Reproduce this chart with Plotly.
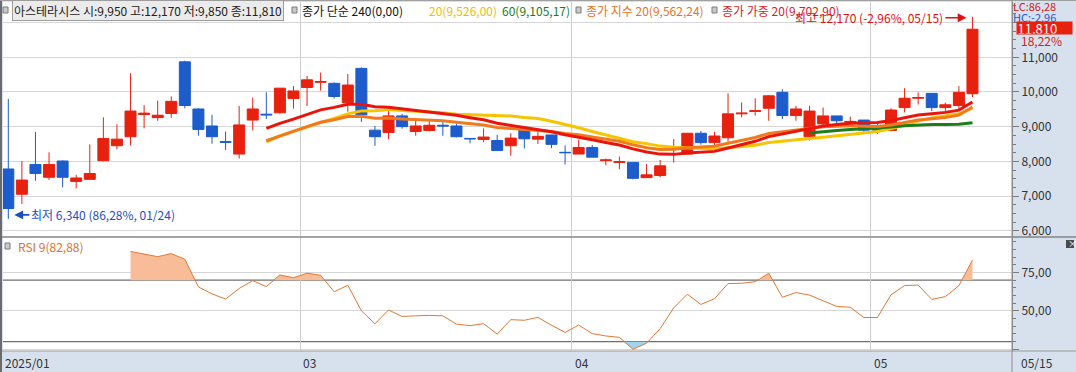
import plotly.graph_objects as go

# ---------------- data ----------------
stock_name = "아스테라시스"
dates = ["01/24", "01/31",
         "02/03", "02/04", "02/05", "02/06", "02/07", "02/10", "02/11", "02/12", "02/13", "02/14",
         "02/17", "02/18", "02/19", "02/20", "02/21", "02/24", "02/25", "02/26", "02/27", "02/28",
         "03/04", "03/05", "03/06", "03/07", "03/10", "03/11", "03/12", "03/13", "03/14", "03/17",
         "03/18", "03/19", "03/20", "03/21", "03/24", "03/25", "03/26", "03/27", "03/28", "03/31",
         "04/01", "04/02", "04/03", "04/04", "04/07", "04/08", "04/09", "04/10", "04/11", "04/14",
         "04/15", "04/16", "04/17", "04/18", "04/21", "04/22", "04/23", "04/24", "04/25", "04/28",
         "04/29", "04/30",
         "05/02", "05/07", "05/08", "05/09", "05/12", "05/13", "05/14", "05/15"]

open_ = [7780, 7050, 7910, 7540, 8010, 7420, 7480, 8020, 8450, 8710,
         9350, 9260, 9380, 10870, 9510, 9020, 8570, 8210, 9190, 9360,
         9400, 9810, 10130, 10280, 10250, 9690, 10680, 8900, 8830, 9310,
         8860, 8890, 9040, 9020, 8660, 8630, 8600, 8450, 8900, 8640,
         8760, 8260, 8210, 8400, 8020, 7970, 7970, 7530, 7590, 8340,
         8210, 8810, 8540, 8680, 9370, 9440, 9530, 9990, 9320, 8710,
         9080, 9310, 9130, 9190, 8970, 8890, 9550, 9820, 9960, 9550,
         9610, 9950]
high = [9800, 8010, 8850, 8260, 8030, 7610, 8490, 9270, 9070, 10540,
        9620, 9750, 9870, 10900, 9530, 9340, 8860, 9600, 9840, 9990,
        10110, 10170, 10460, 10560, 10280, 10520, 10710, 9020, 9510, 9370,
        9170, 9160, 9190, 9080, 8670, 8950, 8760, 8810, 8920, 8890,
        8760, 8460, 8620, 8470, 8080, 8140, 7970, 7920, 8040, 8640,
        8810, 8880, 8850, 9960, 9700, 9820, 9910, 10080, 9600, 9600,
        9550, 9310, 9290, 9190, 9100, 9530, 10110, 9990, 9960, 9690,
        10170, 12170]
low = [6340, 6770, 7440, 7460, 7250, 7220, 7480, 8000, 8350, 8460,
       8950, 9170, 9260, 9530, 8740, 8510, 8330, 8080, 8890, 9220,
       9370, 9520, 9600, 10040, 9810, 9430, 9140, 8450, 8640, 8940,
       8740, 8860, 8740, 8690, 8520, 8550, 8310, 8160, 8370, 8500,
       8380, 7910, 8210, 8120, 7890, 7770, 7480, 7530, 7540, 7960,
       8210, 8480, 8470, 8570, 9270, 9320, 9170, 9220, 9170, 8600,
       9050, 9080, 9020, 8830, 8790, 8860, 9410, 9640, 9450, 9450,
       9510, 9850]
close = [6640, 7460, 7650, 7910, 7540, 7520, 7650, 8660, 8640, 9450,
         9390, 9330, 9730, 9610, 8920, 8710, 8550, 9050, 9510, 9340,
         10110, 10030, 10350, 10300, 9870, 10200, 9340, 8710, 9310, 9000,
         9020, 9040, 9020, 8710, 8650, 8700, 8310, 8670, 8650, 8720,
         8490, 8250, 8400, 8120, 8040, 7990, 7510, 7610, 7870, 8360,
         8810, 8540, 8730, 9370, 9390, 9460, 9890, 9320, 9510, 9450,
         9310, 9170, 9150, 8900, 8900, 9480, 9820, 9840, 9550, 9630,
         9990, 11810]

# moving-average lines as drawn on the chart (from 02/20 on; 60-day from 04/24 on)
sma20 = [None] * 19 + [8563, 8737, 8865, 9000, 9120, 9236, 9370, 9455, 9457, 9491,
                       9468, 9450, 9435, 9400, 9355, 9341, 9341, 9329, 9310, 9267,
                       9236, 9155, 9066, 8968, 8859, 8768, 8657, 8566, 8511, 8439,
                       8407, 8396, 8371, 8357, 8390, 8427, 8465, 8544, 8576, 8619,
                       8656, 8697, 8743, 8780, 8819, 8862, 8937, 9052, 9164, 9248,
                       9311, 9370, 9534]
sma60 = [None] * 59 + [8818, 8863, 8891, 8916, 8933, 8955, 8988, 9024, 9044, 9059,
                       9062, 9072, 9113]
ema20 = [None] * 19 + [8594, 8738, 8861, 9003, 9127, 9198, 9293, 9297, 9242, 9248,
                       9224, 9205, 9189, 9173, 9129, 9084, 9047, 8977, 8947, 8920,
                       8900, 8861, 8803, 8765, 8703, 8641, 8578, 8476, 8394, 8344,
                       8346, 8389, 8404, 8435, 8524, 8607, 8688, 8803, 8852, 8914,
                       8965, 8998, 9014, 9027, 9015, 9004, 9049, 9123, 9191, 9225,
                       9264, 9333, 9569]
wma20 = [None] * 19 + [8949, 9096, 9219, 9361, 9485, 9556, 9648, 9645, 9574, 9560,
                       9513, 9471, 9432, 9392, 9327, 9259, 9198, 9100, 9038, 8975,
                       8923, 8852, 8766, 8702, 8621, 8543, 8469, 8360, 8269, 8208,
                       8201, 8239, 8253, 8287, 8383, 8479, 8577, 8713, 8787, 8876,
                       8955, 9017, 9062, 9101, 9113, 9120, 9179, 9263, 9338, 9375,
                       9412, 9476, 9709]
rsi9 = [None] * 9 + [88.7, 87.1, 85.3, 87.3, 83.6, 65.6, 61.1, 57.7, 64.6, 69.7,
                     65.8, 73.4, 71.6, 74.5, 73.2, 62.4, 66.7, 50.1, 41.6, 50.6,
                     46.4, 46.8, 47.1, 46.8, 41.4, 40.4, 41.7, 34.9, 44.3, 43.9,
                     45.8, 40.7, 36.0, 40.8, 35.2, 33.7, 32.8, 25.0, 29.0, 38.4,
                     52.0, 60.9, 54.2, 57.9, 67.8, 68.0, 69.0, 74.5, 58.9, 61.9,
                     60.3, 56.6, 52.9, 52.4, 45.7, 45.7, 60.5, 66.5, 66.8, 57.5,
                     59.3, 66.4, 83.1]

legend_items = [("종가 단순 240(0,00)", "#111111"), ("20(9,526,00)", "#f0bc00"),
                ("60(9,105,17)", "#1b7a1b"), ("종가 지수 20(9,562,24)", "#e8741c"),
                ("종가 가중 20(9,702,90)", "#d81c1c")]
rsi_label = "RSI 9(82,88)"
price_ticks = [6000, 7000, 8000, 9000, 10000, 11000, 12000]
rsi_ticks = [25, 50, 75]
rsi_ticktext = ["", "50,00", "75,00"]
month_labels = ["03", "04", "05"]
first_label = "2025/01"
last_label = "05/15"
rsi_hi, rsi_lo = 70, 30

# ---------------- styling ----------------
UP, DN = "#e8210f", "#1c5ccc"
PANEL = "#d7e1ee"
FONT = "Noto Sans CJK KR"
W, H = 1076, 372
ML, MR, MT, MB = 3, 64, 2, 21
PW, PH = W - ML - MR, H - MT - MB


def px(x):
    return (x - ML) / PW


def py(y):
    return (H - MB - y) / PH


split = py(237)
idx = list(range(len(dates)))

fig = go.Figure()

# moving averages (under the candles)
for vals, col in [(sma20, "#f7c400"), (sma60, "#1d7d1d"), (ema20, "#f27a1e"), (wma20, "#ea140c")]:
    fig.add_trace(go.Scatter(x=idx, y=vals, mode="lines", line=dict(color=col, width=3),
                             hoverinfo="skip", showlegend=False, xaxis="x", yaxis="y"))

fig.add_trace(go.Candlestick(
    x=idx, open=open_, high=high, low=low, close=close,
    increasing=dict(line=dict(color=UP, width=1), fillcolor=UP),
    decreasing=dict(line=dict(color=DN, width=1), fillcolor=DN),
    whiskerwidth=0, showlegend=False, hoverinfo="skip", xaxis="x", yaxis="y"))


# RSI fill regions beyond the 70 / 30 levels
def band_segments(xs, ys, thr, above):
    segs, cur, prev = [], [], None
    for x, y in zip(xs, ys):
        if y is None:
            prev = None
            continue
        ins = y > thr if above else y < thr
        if prev is not None and prev[2] != ins:
            x0, y0 = prev[0], prev[1]
            xc = x0 + (thr - y0) * (x - x0) / (y - y0)
            cur.append((xc, thr))
            if not ins:
                segs.append(cur)
                cur = []
        if ins:
            if not cur:
                cur.append((x, thr))
            cur.append((x, y))
        prev = (x, y, ins)
    if cur:
        cur.append((cur[-1][0], thr))
        segs.append(cur)
    return segs


for thr, above, col in [(rsi_hi, True, "#f8bd98"), (rsi_lo, False, "#9fd4ec")]:
    for seg in band_segments(idx, rsi9, thr, above):
        fig.add_trace(go.Scatter(x=[p[0] for p in seg], y=[p[1] for p in seg], mode="lines",
                                 fill="toself", fillcolor=col, line=dict(width=0),
                                 hoverinfo="skip", showlegend=False, xaxis="x2", yaxis="y2"))

fig.add_trace(go.Scatter(x=idx, y=rsi9, mode="lines", line=dict(color="#e37836", width=1),
                         hoverinfo="skip", showlegend=False, xaxis="x2", yaxis="y2"))

# month gridlines (skip February, hidden under the first label)
month_start = {}
for i, d in enumerate(dates):
    month_start.setdefault(d[:2], i)
grid_x = [month_start[m] - 0.5 for m in month_labels]

x_range = [-0.39, 73.91]
xcommon = dict(range=x_range, tickvals=grid_x, showticklabels=False, ticks="", showgrid=True,
               gridcolor="#cccccc", gridwidth=1, zeroline=False, showline=False, fixedrange=True)
tickfont = dict(family=FONT, size=12, color="#333333")

fig.update_layout(
    width=W, height=H, margin=dict(l=ML, r=MR, t=MT, b=MB),
    paper_bgcolor=PANEL, plot_bgcolor="#ffffff", showlegend=False,
    boxgap=0.1, boxgroupgap=0.1,
    xaxis=dict(domain=[0, 1], anchor="y", rangeslider=dict(visible=False), **xcommon),
    xaxis2=dict(domain=[0, 1], anchor="y2", matches="x", **xcommon),
    yaxis=dict(domain=[split, 1], range=[5818, 12595], side="right",
               tickmode="array", tickvals=price_ticks,
               ticktext=[f"{v:,}" if v < 12000 else "" for v in price_ticks],
               showgrid=True, gridcolor="#d6d6d6", zeroline=False,
               ticks="outside", ticklen=6, tickcolor="#7c7c7c", tickfont=tickfont,
               minor=dict(tickmode="linear", tick0=0, dtick=250, ticks="outside", ticklen=3,
                          tickcolor="#7c7c7c", showgrid=False),
               showline=True, linecolor="#8a8a8a", fixedrange=True),
    yaxis2=dict(domain=[0, split], range=[23.9, 98.1], side="right",
                tickmode="array", tickvals=rsi_ticks, ticktext=rsi_ticktext,
                showgrid=True, gridcolor="#d6d6d6", zeroline=False,
                ticks="outside", ticklen=6, tickcolor="#7c7c7c", tickfont=tickfont,
                minor=dict(tickmode="linear", tick0=0, dtick=5, ticks="outside", ticklen=3,
                           tickcolor="#7c7c7c", showgrid=False),
                showline=True, linecolor="#8a8a8a", fixedrange=True),
)

shapes = [
    dict(type="line", xref="paper", yref="y2", x0=0, x1=1, y0=rsi_hi, y1=rsi_hi,
         line=dict(color="#6f6f6f", width=1.2), layer="below"),
    dict(type="line", xref="paper", yref="y2", x0=0, x1=1, y0=rsi_lo, y1=rsi_lo,
         line=dict(color="#6f6f6f", width=1.2), layer="below"),
    # pane separator, bottom band edge, left and top borders
    dict(type="line", xref="paper", yref="paper", x0=px(0), x1=px(W), y0=split, y1=split,
         line=dict(color="#858585", width=1.5)),
    dict(type="line", xref="paper", yref="paper", x0=px(0), x1=px(W), y0=py(351), y1=py(351),
         line=dict(color="#9a9a9a", width=1)),
    dict(type="line", xref="paper", yref="paper", x0=px(1), x1=px(1), y0=py(372), y1=py(0),
         line=dict(color="#6b6b6b", width=2)),
    dict(type="line", xref="paper", yref="paper", x0=px(0), x1=px(W), y0=py(0.5), y1=py(0.5),
         line=dict(color="#a0a0a0", width=1)),
    dict(type="line", xref="paper", yref="paper", x0=px(1012), x1=px(1012), y0=py(372), y1=py(0),
         line=dict(color="#8a8a8a", width=1)),
]
# small square legend markers
for x0, yc in [(3, 10), (292, 10), (576, 10), (712, 10), (5, 246)]:
    shapes.append(dict(type="rect", xref="paper", yref="paper", x0=px(x0), x1=px(x0 + 5),
                       y0=py(yc + 3), y1=py(yc - 3), fillcolor="#c9c9c9",
                       line=dict(color="#7a7a7a", width=1)))
shapes.append(dict(type="rect", xref="paper", yref="paper", x0=px(1066), x1=px(1074),
                   y0=py(248), y1=py(240), fillcolor="#4a4a4a", line=dict(width=0)))
fig.update_layout(shapes=shapes)

ann = []


def text(x, y, s, color, size=12, anchor="left", **kw):
    ann.append(dict(x=px(x), y=py(y), xref="paper", yref="paper", text=s, showarrow=False,
                    xanchor=anchor, yanchor="middle", font=dict(family=FONT, size=size, color=color), **kw))


last = len(dates) - 1
hdr = (f"{stock_name} 시:{open_[last]:,} 고:{high[last]:,} "
       f"저:{low[last]:,} 종:{close[last]:,}")
text(12, 10.5, hdr, "#222222", bgcolor="#ebebeb", bordercolor="#9c9c9c", borderwidth=1, borderpad=1)
for (s, col), x in zip(legend_items, [300, 427, 500, 584, 720]):
    text(x, 10.5, s, col)
text(16, 246.5, rsi_label, "#e0702a")

# right panel texts
lo_min = min(low)
i_lo = low.index(lo_min)
hi_max = max(high)
i_hi = high.index(hi_max)
lc = (close[last] - lo_min) / lo_min * 100
hc = (close[last] - hi_max) / hi_max * 100
chg = (close[last] - close[last - 1]) / close[last - 1] * 100
text(1011, 6.5, f"LC:{lc:.2f}".replace(".", ","), "#d42020", size=11)
text(1011, 17, f"HC:{hc:.2f}".replace(".", ","), "#2456c8", size=11)
ann.append(dict(x=px(1016), y=py(28.5), xref="paper", yref="paper", text=f"{close[last]:,}",
                showarrow=False, xanchor="left", yanchor="middle", align="left",
                width=54, height=11, bgcolor="#e8210f", borderpad=0.5,
                font=dict(family=FONT, size=13, color="#ffffff")))
text(1019, 40.5, f"{chg:.2f}%".replace(".", ","), "#d42020")
text(1066, 243.5, "×", "#ffffff", size=9)

# bottom time labels
text(3, 362, first_label, "#333333")
for m, gx in zip(month_labels, grid_x):
    ann.append(dict(x=gx, y=py(362), xref="x2", yref="paper", text=m, showarrow=False,
                    xanchor="left", yanchor="middle", xshift=1,
                    font=dict(family=FONT, size=12, color="#333333")))
text(1019, 362, last_label, "#333333")

# high / low markers
ann.append(dict(x=i_hi, y=hi_max, xref="x", yref="y",
                text=f"최고 {hi_max:,} ({hc:.2f}%, {dates[i_hi]})".replace(".", ","),
                showarrow=True, ax=-27, ay=0, standoff=6, xanchor="right", yanchor="middle",
                arrowhead=2, arrowsize=1.1, arrowwidth=1.6, arrowcolor="#e01010", yshift=-1,
                font=dict(family=FONT, size=12, color="#e01010")))
ann.append(dict(x=i_lo, y=lo_min, xref="x", yref="y",
                text=f"최저 {lo_min:,} ({lc:.2f}%, {dates[i_lo]})".replace(".", ","),
                showarrow=True, ax=21, ay=0, standoff=6, xanchor="left", yanchor="middle",
                arrowhead=2, arrowsize=1.1, arrowwidth=1.6, arrowcolor="#1d4fc4", yshift=4,
                font=dict(family=FONT, size=12, color="#1d4fc4")))
fig.update_layout(annotations=ann)

fig.write_html("out.html", config={"displayModeBar": False},
               post_script="document.body.style.margin='0px';document.body.style.overflow='hidden';")
